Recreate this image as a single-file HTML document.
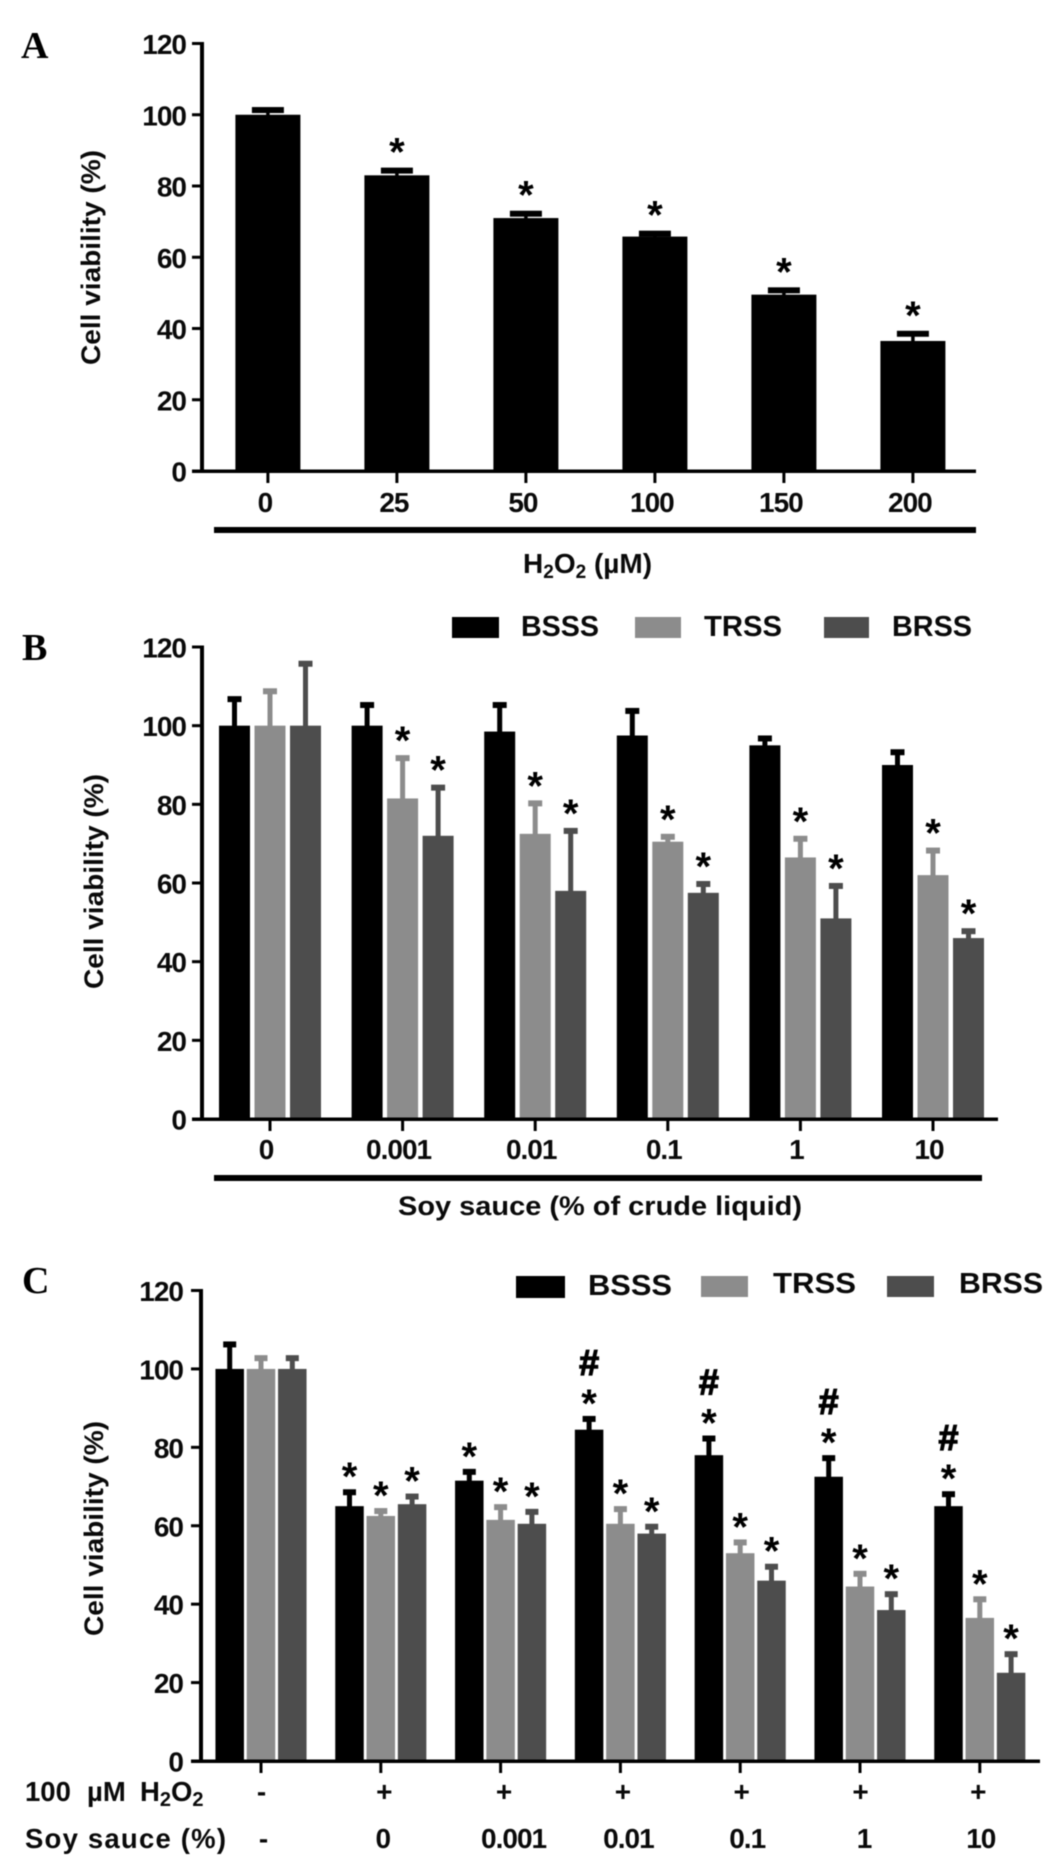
<!DOCTYPE html>
<html lang="en">
<head>
<meta charset="utf-8">
<title>Cell viability charts</title>
<style>
html,body{margin:0;padding:0;background:#fff;}
svg{display:block;filter:blur(0.6px);}
text{font-family:"Liberation Sans",sans-serif;font-weight:bold;fill:#0a0a0a;}
.letter{font-family:"Liberation Serif",serif;font-size:38px;fill:#000;}
.tick{font-size:28px;letter-spacing:-1px;}
.axis-title{font-size:27px;}
.x-title{font-size:28px;}
.legend{font-size:28.5px;}
.row{font-size:27.5px;}
</style>
</head>
<body>
<svg id="figure" xmlns="http://www.w3.org/2000/svg" width="1050" height="1861" viewBox="0 0 1050 1861">
  <rect x="0" y="0" width="1050" height="1861" fill="#fff"/>

  <text class="letter" x="21" y="58">A</text>
  <text class="letter" x="22" y="660">B</text>
  <text class="letter" x="22" y="1293">C</text>

  <g id="panel-a"></g>
  <g id="panel-b"></g>
  <g id="panel-c"></g>

  <text class="axis-title" transform="translate(100,365) rotate(-90)" textLength="215" lengthAdjust="spacingAndGlyphs">Cell viability (%)</text>
  <text class="axis-title" transform="translate(103,989) rotate(-90)" textLength="215" lengthAdjust="spacingAndGlyphs">Cell viability (%)</text>
  <text class="axis-title" transform="translate(103,1636) rotate(-90)" textLength="215" lengthAdjust="spacingAndGlyphs">Cell viability (%)</text>

  <rect x="214" y="527" width="762" height="6" fill="#000"/>
  <text class="x-title" x="523" y="573">H<tspan font-size="19" dy="5">2</tspan><tspan dy="-5">O</tspan><tspan font-size="19" dy="5">2</tspan><tspan dy="-5"> (µM)</tspan></text>

  <rect x="214" y="1175" width="768" height="6" fill="#000"/>
  <text class="axis-title" x="398" y="1215" textLength="404" lengthAdjust="spacingAndGlyphs">Soy sauce (% of crude liquid)</text>

  <g>
    <rect x="452" y="617" width="47" height="21" fill="#000"/>
    <text class="legend" x="521" y="636" textLength="78" lengthAdjust="spacingAndGlyphs">BSSS</text>
    <rect x="635" y="617" width="46" height="21" fill="#8c8c8c"/>
    <text class="legend" x="704" y="636" textLength="78" lengthAdjust="spacingAndGlyphs">TRSS</text>
    <rect x="824" y="617" width="45" height="21" fill="#4d4d4d"/>
    <text class="legend" x="892" y="636" textLength="80" lengthAdjust="spacingAndGlyphs">BRSS</text>
  </g>

  <g>
    <rect x="516" y="1276" width="49" height="22" fill="#000"/>
    <text class="legend" x="588" y="1295" textLength="84" lengthAdjust="spacingAndGlyphs">BSSS</text>
    <rect x="701" y="1276" width="47" height="21" fill="#8c8c8c"/>
    <text class="legend" x="773" y="1293" textLength="83" lengthAdjust="spacingAndGlyphs">TRSS</text>
    <rect x="887" y="1276" width="47" height="21" fill="#4d4d4d"/>
    <text class="legend" x="959" y="1293" textLength="84" lengthAdjust="spacingAndGlyphs">BRSS</text>
  </g>

  <text class="row" y="1801"><tspan x="25">100</tspan><tspan x="87">µM</tspan><tspan x="140">H</tspan><tspan font-size="20" dy="5">2</tspan><tspan dy="-5">O</tspan><tspan font-size="20" dy="5">2</tspan></text>
  <text class="row" x="25" y="1848" textLength="201" lengthAdjust="spacing">Soy sauce (%)</text>
</svg>

<script>
// ---------- shared axis ticks ----------
const yTickValues = [0, 20, 40, 60, 80, 100, 120];
const seriesNames = ['bsss', 'trss', 'brss'];

// ---------- panel A ----------
const categoriesA = ['0', '25', '50', '100', '150', '200'];
const valuesA = [100, 83, 71, 65.8, 49.5, 36.5];
const errorsA = [1.6, 1.6, 1.5, 1.1, 1.5, 2.3];
const starsA = [0, 1, 1, 1, 1, 1];

// ---------- panel B ----------
const categoriesB = ['0', '0.001', '0.01', '0.1', '1', '10'];
const valuesB_BSSS = [100, 100, 98.5, 97.5, 95, 90];
const errorsB_BSSS = [7, 5.5, 7, 6.5, 2, 3.5];
const starsB_BSSS = [0, 0, 0, 0, 0, 0];
const valuesB_TRSS = [100, 81.5, 72.5, 70.5, 66.5, 62];
const errorsB_TRSS = [9, 10.5, 8, 1.5, 5, 6.5];
const starsB_TRSS = [0, 1, 1, 1, 1, 1];
const valuesB_BRSS = [100, 72, 58, 57.5, 51, 46];
const errorsB_BRSS = [16, 12.5, 15.5, 2.5, 8.5, 2];
const starsB_BRSS = [0, 1, 1, 1, 1, 1];

// ---------- panel C ----------
const categoriesC_H2O2 = ['-', '+', '+', '+', '+', '+', '+'];
const categoriesC_Soy = ['-', '0', '0.001', '0.01', '0.1', '1', '10'];
const valuesC_BSSS = [100, 65, 71.5, 84.5, 78, 72.5, 65];
const errorsC_BSSS = [6.5, 3.8, 2.5, 3, 4.5, 5, 3.3];
const starsC_BSSS = [0, 1, 1, 1, 1, 1, 1];
const hashesC_BSSS = [0, 0, 0, 1, 1, 1, 1];
const valuesC_TRSS = [100, 62.5, 61.5, 60.5, 53, 44.5, 36.5];
const errorsC_TRSS = [3, 1.5, 3.5, 4, 3, 3.5, 5];
const starsC_TRSS = [0, 1, 1, 1, 1, 1, 1];
const valuesC_BRSS = [100, 65.5, 60.5, 58, 46, 38.5, 22.5];
const errorsC_BRSS = [3, 2.2, 3.3, 2, 3.8, 4.3, 5];
const starsC_BRSS = [0, 1, 1, 1, 1, 1, 1];

const NS = 'http://www.w3.org/2000/svg';
const SERIES_COLORS = ['#000000', '#8c8c8c', '#4d4d4d'];

function mk(tag, attrs, parent, content) {
  const el = document.createElementNS(NS, tag);
  for (const k in attrs) el.setAttribute(k, attrs[k]);
  if (content !== undefined) el.textContent = content;
  parent.appendChild(el);
  return el;
}

function drawPanel(parent, layout, categories, series, extraRows) {
  const yScale = v => layout.y0 + (layout.y120 - layout.y0) * v / 120;
  const groupCenter = i => layout.center0 + i * layout.step;
  const barCenter = (i, j, n) => groupCenter(i) + (j - (n - 1) / 2) * layout.pitch;

  // bars, error bars, markers
  series.forEach((s, j) => {
    s.values.forEach((v, i) => {
      const cx = barCenter(i, j, series.length);
      const topY = yScale(v);
      const errY = yScale(v + s.errors[i]);

      const errLine = mk('rect', {x: cx - layout.errWidth / 2, y: errY, width: layout.errWidth, height: topY - errY + 1, fill: s.color}, parent);
      
      

      const cap = mk('rect', {x: cx - layout.capWidth / 2, y: errY - 2, width: layout.capWidth, height: 6, fill: s.color}, parent);
      
      

      const bar = mk('rect', {x: cx - layout.barWidth / 2, y: topY, width: layout.barWidth, height: layout.y0 - topY, fill: s.color}, parent);
      
      

      if (s.stars[i]) {
        const star = mk('text', {x: cx, y: errY - layout.starGap + 22, 'text-anchor': 'middle', 'font-size': 40, style: 'fill:#000'}, parent, '*');
        
        
      }
      if (s.hashes && s.hashes[i]) {
        const hash = mk('text', {x: cx, y: errY - layout.starGap - 33 + 13, 'text-anchor': 'middle', 'font-size': 36, style: 'fill:#000;stroke:#000;stroke-width:1.2px'}, parent, '#');
        
        
      }
    });
  });

  // y axis
  const yAxis = mk('rect', {x: layout.xAxis - 2, y: yScale(120) - 1.5, width: 4, height: layout.y0 - yScale(120) + 3, fill: '#000'}, parent);
  
  

  yTickValues.forEach(t => {
    const tick = mk('rect', {x: layout.xAxis - 10, y: yScale(t) - 1.5, width: 10, height: 3, fill: '#000'}, parent);
    
    

    const label = mk('text', {class: 'tick', x: layout.yLabelX, y: yScale(t) + 10.5, 'text-anchor': 'end'}, parent, String(t));
    
    
  });

  // x axis
  const xAxis = mk('rect', {x: layout.xAxis - 10, y: layout.y0 - 1.5, width: layout.xEnd - layout.xAxis + 10, height: 3.5, fill: '#000'}, parent);
  
  

  categories.forEach((c, i) => {
    const tick = mk('rect', {x: groupCenter(i) - 1.5, y: layout.y0, width: 3, height: 12, fill: '#000'}, parent);
    
    

    if (layout.xLabelY) {
      const label = mk('text', {class: 'tick', x: groupCenter(i) + layout.xLabelNudge, y: layout.xLabelY, 'text-anchor': 'middle'}, parent, c);
      
      
    }
  });

  (extraRows || []).forEach(row => {
    row.labels.forEach((c, i) => {
      const label = mk('text', {class: 'tick', x: groupCenter(i) + row.nudge[i], y: row.y, 'text-anchor': 'middle'}, parent, c);
      
      
    });
  });
}

drawPanel(document.getElementById('panel-a'),
  {y0: 471, y120: 43.5, center0: 267.9, step: 129, pitch: 0, barWidth: 65, errWidth: 3.5, capWidth: 32, starGap: 26, xAxis: 202, xEnd: 976, yLabelX: 186, xLabelY: 512, xLabelNudge: -3},
  categoriesA,
  [{name: 'h2o2', color: SERIES_COLORS[0], values: valuesA, errors: errorsA, stars: starsA}]);

drawPanel(document.getElementById('panel-b'),
  {y0: 1119, y120: 647, center0: 270, step: 132.6, pitch: 35.5, barWidth: 31, errWidth: 5, capWidth: 14, starGap: 25, xAxis: 202, xEnd: 998, yLabelX: 186, xLabelY: 1159, xLabelNudge: -4},
  categoriesB,
  [
    {name: seriesNames[0], color: SERIES_COLORS[0], values: valuesB_BSSS, errors: errorsB_BSSS, stars: starsB_BSSS},
    {name: seriesNames[1], color: SERIES_COLORS[1], values: valuesB_TRSS, errors: errorsB_TRSS, stars: starsB_TRSS},
    {name: seriesNames[2], color: SERIES_COLORS[2], values: valuesB_BRSS, errors: errorsB_BRSS, stars: starsB_BRSS}
  ]);

drawPanel(document.getElementById('panel-c'),
  {y0: 1761, y120: 1290.5, center0: 261, step: 119.8, pitch: 31.3, barWidth: 28.5, errWidth: 5, capWidth: 13, starGap: 23, xAxis: 201, xEnd: 1040, yLabelX: 183, xLabelY: 0, xLabelNudge: 0},
  categoriesC_Soy,
  [
    {name: seriesNames[0], color: SERIES_COLORS[0], values: valuesC_BSSS, errors: errorsC_BSSS, stars: starsC_BSSS, hashes: hashesC_BSSS},
    {name: seriesNames[1], color: SERIES_COLORS[1], values: valuesC_TRSS, errors: errorsC_TRSS, stars: starsC_TRSS},
    {name: seriesNames[2], color: SERIES_COLORS[2], values: valuesC_BRSS, errors: errorsC_BRSS, stars: starsC_BRSS}
  ],
  [
    {labels: categoriesC_H2O2, y: 1801, nudge: [0, 3, 3, 2, 1, 0, -2]},
    {labels: categoriesC_Soy, y: 1848, nudge: [2, 2, 13, 8, 7, 4, 1]}
  ]);
</script>
</body>
</html>
